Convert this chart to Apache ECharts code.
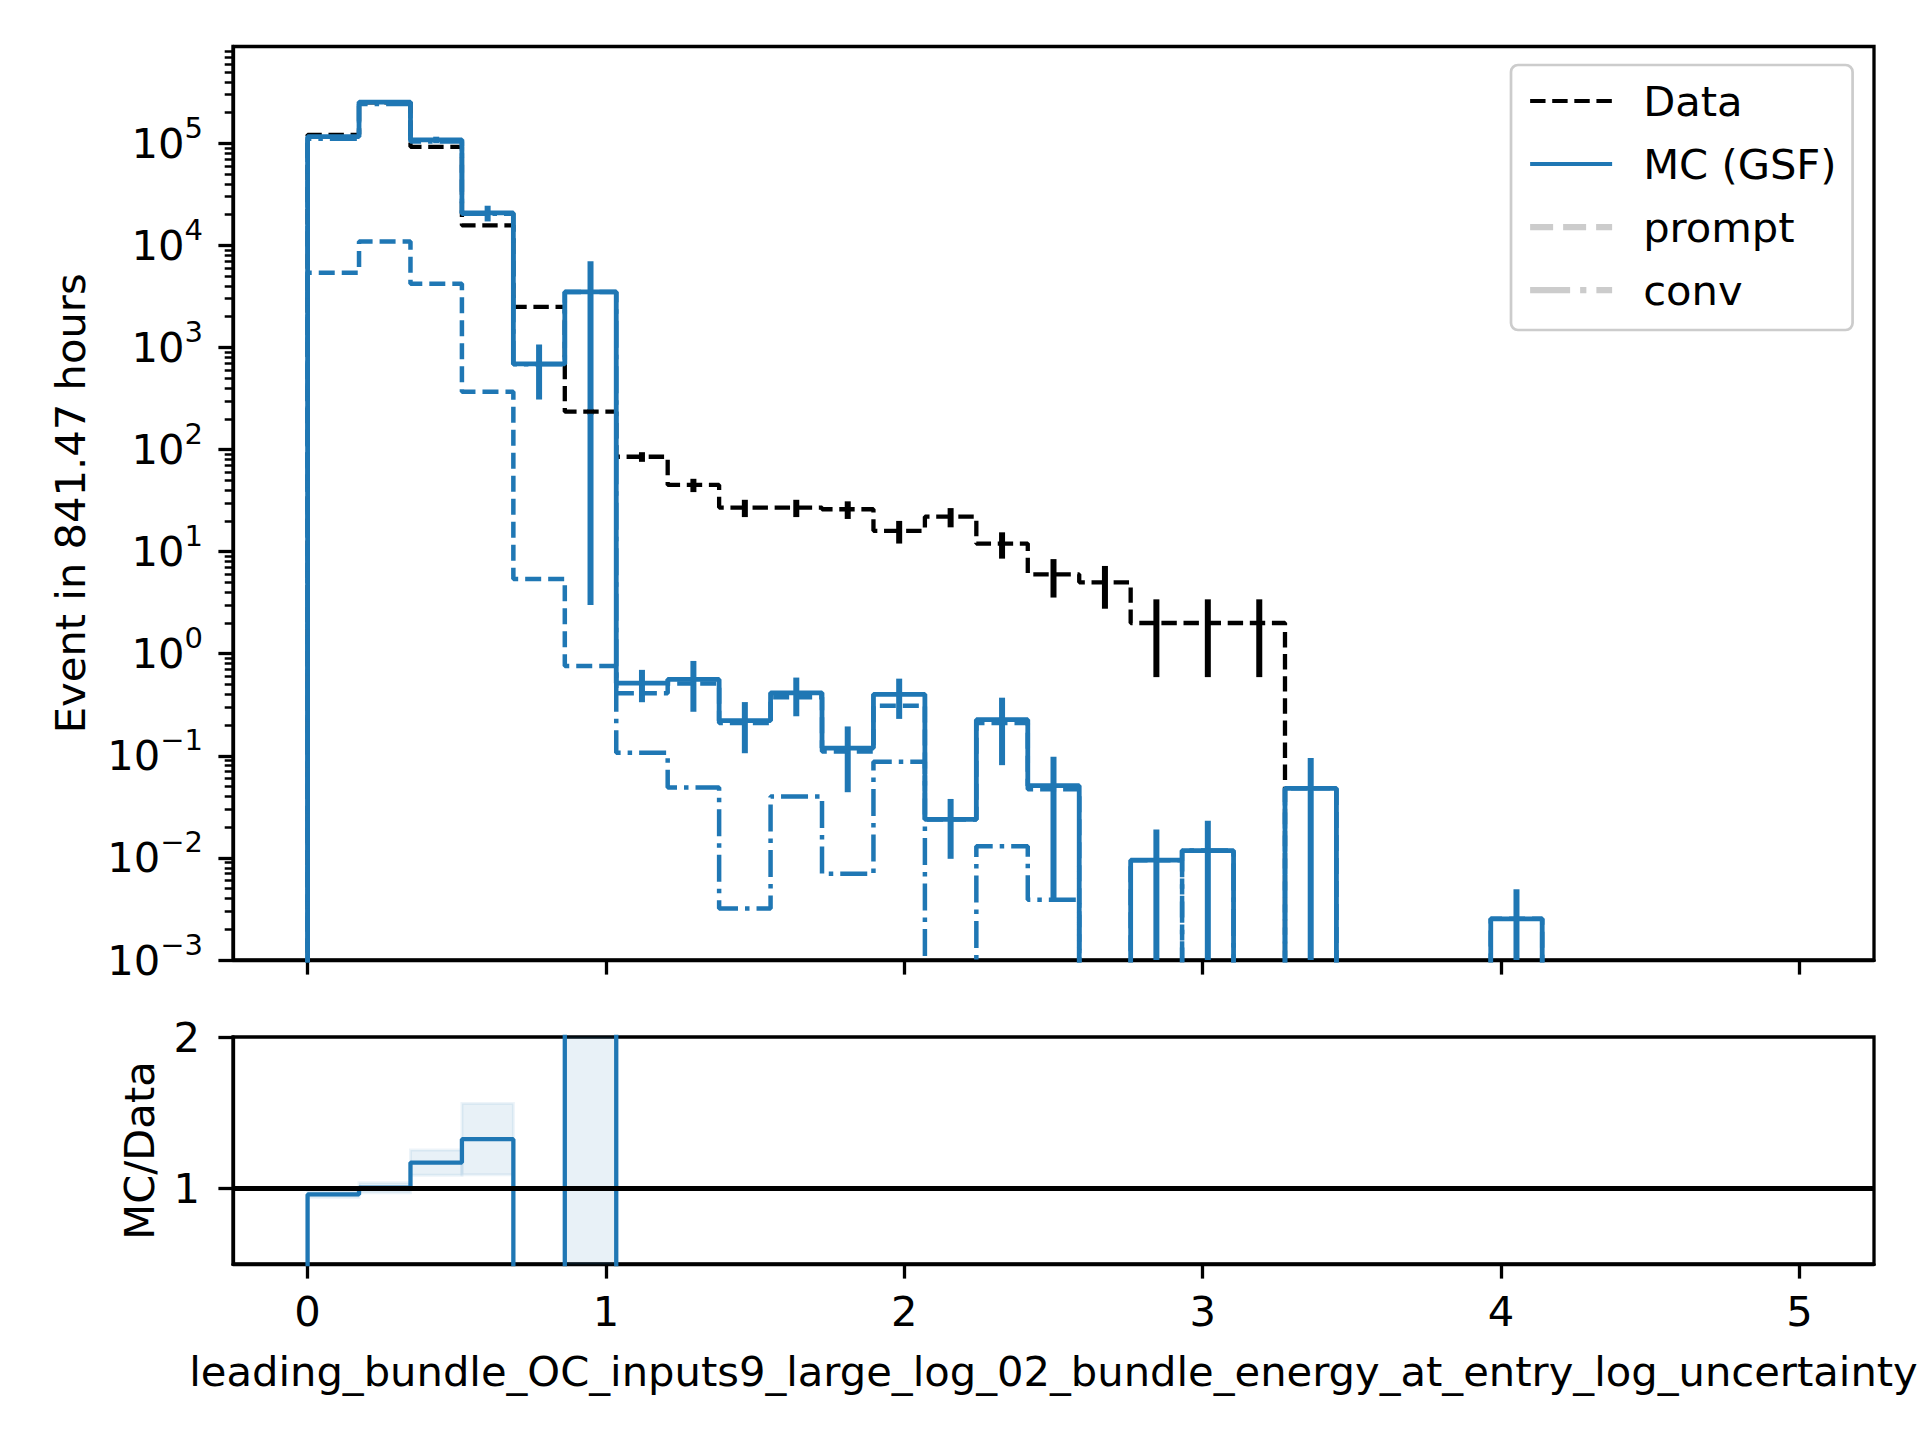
<!DOCTYPE html>
<html><head><meta charset="utf-8">
<script src="https://cdn.jsdelivr.net/npm/echarts@6.0.0/dist/echarts.min.js"></script>
<style>html,body{margin:0;padding:0;background:#fff}#c{width:1920px;height:1440px}</style>
</head><body><div id="c"></div>
<script>
// ---- binning ----
const binLo = 0, binHi = 5, nBins = 29;
// ---- values ----
const dataCounts = [121000, 252000, 92300, 15700, 2500, 235, 85, 45, 27, 27, 26, 16, 22, 12, 6, 5, 2, 2, 2, 0, 0, 0, 0, 0, 0, 0, 0, 0, 0];
const dataErr    = [348, 502, 304, 125, 50, 15.3, 9.2, 6.7, 5.2, 5.2, 5.1, 4.0, 4.7, 3.46, 2.45, 2.24, 1.41, 1.41, 1.41, 0, 0, 0, 0, 0, 0, 0, 0, 0, 0];
const mcVals     = [116000, 253000, 108000, 20800, 689, 3500, 0.515, 0.56, 0.221, 0.414, 0.119, 0.40, 0.0238, 0.226, 0.051, 0, 0.0095, 0.0118, 0, 0.048, 0, 0, 0, 0.00253, 0, 0, 0, 0, 0];
const mcErr      = [2300, 8400, 8000, 3650, 380, 3497, 0.18, 0.29, 0.115, 0.17, 0.075, 0.17, 0.014, 0.145, 0.047, 0, 0.0095, 0.0113, 0, 0.047, 0, 0, 0, 0.0024, 0, 0, 0, 0, 0];
const promptVals = [5400, 10900, 4200, 369, 5.4, 0.76, 0.41, 0.51, 0.21, 0.375, 0.11, 0.31, 0.0238, 0.21, 0.047, 0, 0.0095, 0, 0, 0.048, 0, 0, 0, 0.00253, 0, 0, 0, 0, 0];
const convVals   = [110600, 242100, 103800, 20430, 684, 3499, 0.107, 0.049, 0.0032, 0.040, 0.007, 0.0875, 0, 0.013, 0.0039, 0, 0, 0.0118, 0, 0, 0, 0, 0, 0, 0, 0, 0, 0, 0];
const ratioVals  = [0.96, 1.004, 1.17, 1.325, 0.276, 14.9, 0.0061, 0.0124, 0.0082, 0.0153, 0.0046, 0.025, 0.0011, 0.0188, 0.0085, 0, 0.0048, 0.0059, 0];
const ratioErr   = [0.02, 0.033, 0.083, 0.235, 0.15, 14.9, 0.0021, 0.0065, 0.0043, 0.0063, 0.0029, 0.011, 0.0006, 0.012, 0.0078, 0, 0.0048, 0.0057, 0];
// ---- ticks / labels ----
const xTicks = [0, 1, 2, 3, 4, 5];
const yMajorTicks = [1e-3, 1e-2, 1e-1, 1, 10, 100, 1e3, 1e4, 1e5];
const ratioTicks = [1, 2];
const xLabel = 'leading_bundle_OC_inputs9_large_log_02_bundle_energy_at_entry_log_uncertainty';
const yLabel = 'Event in 841.47 hours';
const ratioLabel = 'MC/Data';
const legendNames = ['Data', 'MC (GSF)', 'prompt', 'conv'];

const FONT = 'DejaVu Sans';
const FS = 41.67;
const BLUE = '#1f77b4';
const yMin = 1e-3, yMax = 8.87e5;
const FLOOR = 1e-9;

const edges = [];
for (let i = 0; i <= nBins; i++) edges.push(binLo + i * (binHi - binLo) / nBins);
const centers = [];
for (let i = 0; i < nBins; i++) centers.push((edges[i] + edges[i + 1]) / 2);

const minorTicks = [];
for (let k = -3; k <= 5; k++) for (let m = 2; m <= 9; m++) { const v = m * Math.pow(10, k); if (v <= yMax) minorTicks.push(v); }

function stairs(vals, floor) {
  const pts = [[edges[0], floor]];
  for (let i = 0; i < vals.length; i++) {
    const v = vals[i] > 0 ? vals[i] : floor;
    pts.push([edges[i], v]); pts.push([edges[i + 1], v]);
  }
  pts.push([edges[vals.length], floor]);
  return pts;
}

function errBars(name, vals, errs, color, width) {
  const rows = [];
  for (let i = 0; i < vals.length; i++) if (vals[i] > 0 && errs[i] > 0) rows.push([centers[i], vals[i], errs[i]]);
  return {
    type: 'custom', name: name, xAxisIndex: 0, yAxisIndex: 0, data: rows, silent: true,
    renderItem: function (params, api) {
      const x = api.value(0), v = api.value(1), e = api.value(2);
      const cs = params.coordSys;
      const top = api.coord([x, v + e]);
      const lo = v - e;
      let yb = lo > 0 ? api.coord([x, lo])[1] : cs.y + cs.height;
      let yt = Math.max(top[1], cs.y);
      yb = Math.min(yb, cs.y + cs.height);
      return { type: 'line', shape: { x1: top[0], y1: yt, x2: top[0], y2: yb }, style: { stroke: color, lineWidth: width } };
    }
  };
}

const bandRows = [];
for (let i = 0; i < ratioVals.length; i++) if (ratioVals[i] > 0) bandRows.push([edges[i], edges[i + 1], ratioVals[i] - ratioErr[i], ratioVals[i] + ratioErr[i]]);

function supLabel(v) {
  const e = Math.round(Math.log10(v));
  const s = (e < 0 ? '\u2212' : '') + Math.abs(e);
  return '{b|10}{s|' + s + '}';
}

const chart = echarts.init(document.getElementById('c'), null, { renderer: 'svg', width: 1920, height: 1440 });
const axisLineStyle = { color: '#000', width: 3.3 };
const noSym = { color: 'rgba(0,0,0,0)', borderColor: 'rgba(0,0,0,0)', borderWidth: 0 };
const LW = 4.8;
const option = {
  animation: false,
  backgroundColor: '#fff',
  textStyle: { fontFamily: FONT },
  grid: [
    { left: 233, top: 46.5, width: 1641, height: 913.5, show: true, borderColor: '#000', borderWidth: 3.3, backgroundColor: 'transparent' },
    { left: 233, top: 1037, width: 1641, height: 227, show: true, borderColor: '#000', borderWidth: 3.3, backgroundColor: 'transparent' }
  ],
  legend: {
    orient: 'vertical', left: 1511, top: 65, padding: [15, 16, 19, 16],
    itemWidth: 82, itemHeight: 20, itemGap: 21, selectedMode: false,
    backgroundColor: '#fff', borderColor: '#cccccc', borderWidth: 2.7, borderRadius: 7,
    textStyle: { fontFamily: FONT, fontSize: FS, color: '#000', padding: [0, 0, 0, 26] },
    data: [
      { name: legendNames[0], itemStyle: noSym, lineStyle: { color: '#000', width: 4.17, type: [15.4, 6.7] } },
      { name: legendNames[1], itemStyle: noSym, lineStyle: { color: BLUE, width: 4.17, type: 'solid' } },
      { name: legendNames[2], itemStyle: noSym, lineStyle: { color: '#cccccc', width: 6.25, type: [23, 10] } },
      { name: legendNames[3], itemStyle: noSym, lineStyle: { color: '#cccccc', width: 6.25, type: [40, 10, 6.25, 10] } }
    ]
  },
  xAxis: [
    { type: 'value', gridIndex: 0, min: -0.25, max: 5.25,
      axisLine: { show: true, onZero: false, lineStyle: axisLineStyle },
      axisTick: { show: true, length: 14.6, lineStyle: { color: '#000', width: 3.3 }, customValues: xTicks },
      axisLabel: { show: false, customValues: xTicks }, splitLine: { show: false } },
    { type: 'value', gridIndex: 1, min: -0.25, max: 5.25,
      axisLine: { show: true, onZero: false, lineStyle: axisLineStyle },
      axisTick: { show: true, length: 14.6, lineStyle: { color: '#000', width: 3.3 }, customValues: xTicks },
      axisLabel: { show: true, customValues: xTicks, fontSize: FS, color: '#000', fontFamily: FONT, margin: 26 },
      splitLine: { show: false },
      name: xLabel, nameLocation: 'middle', nameGap: 86,
      nameTextStyle: { fontSize: FS, color: '#000', fontFamily: FONT } }
  ],
  yAxis: [
    { type: 'log', logBase: 10, gridIndex: 0, min: yMin, max: yMax,
      axisLine: { show: true, onZero: false, lineStyle: axisLineStyle },
      axisTick: { show: true, length: 14.6, lineStyle: { color: '#000', width: 3.3 }, customValues: yMajorTicks },
      axisLabel: { show: true, customValues: yMajorTicks, margin: 30, formatter: supLabel,
        rich: { b: { fontSize: FS, fontFamily: FONT, color: '#000', lineHeight: 60 },
                s: { fontSize: 29, fontFamily: FONT, color: '#000', verticalAlign: 'top', lineHeight: 30 } } },
      splitLine: { show: false },
      name: yLabel, nameLocation: 'middle', nameGap: 142, nameRotate: 90,
      nameTextStyle: { fontSize: FS, color: '#000', fontFamily: FONT } },
    { type: 'log', logBase: 10, gridIndex: 0, min: yMin, max: yMax, position: 'left',
      axisLine: { show: false, onZero: false },
      axisTick: { show: true, length: 8.3, lineStyle: { color: '#000', width: 2.5 }, customValues: minorTicks },
      axisLabel: { show: false, customValues: minorTicks }, splitLine: { show: false } },
    { type: 'value', gridIndex: 1, min: 0.5, max: 2,
      axisLine: { show: true, onZero: false, lineStyle: axisLineStyle },
      axisTick: { show: true, length: 14.6, lineStyle: { color: '#000', width: 3.3 }, customValues: ratioTicks },
      axisLabel: { show: true, customValues: ratioTicks, fontSize: FS, color: '#000', fontFamily: FONT, margin: 33 },
      splitLine: { show: false },
      name: ratioLabel, nameLocation: 'middle', nameGap: 73, nameRotate: 90,
      nameTextStyle: { fontSize: FS, color: '#000', fontFamily: FONT } }
  ],
  series: [
    { type: 'line', name: 'Data', xAxisIndex: 0, yAxisIndex: 0, data: stairs(dataCounts, FLOOR), symbol: 'none', clip: true,
      lineStyle: { color: '#000', width: 4.3, type: [15.4, 6.7] }, itemStyle: { color: '#000' }, silent: true },
    errBars('Data err', dataCounts, dataErr, '#000', 6),
    { type: 'line', name: 'MC (GSF)', xAxisIndex: 0, yAxisIndex: 0, data: stairs(mcVals, FLOOR), symbol: 'none', clip: true,
      lineStyle: { color: BLUE, width: LW }, itemStyle: { color: BLUE }, silent: true },
    errBars('MC err', mcVals, mcErr, BLUE, 6),
    { type: 'line', name: 'prompt', xAxisIndex: 0, yAxisIndex: 0, data: stairs(promptVals, FLOOR), symbol: 'none', clip: true,
      lineStyle: { color: BLUE, width: 4.5, type: [16, 7] }, itemStyle: { color: '#cccccc' }, silent: true },
    { type: 'line', name: 'conv', xAxisIndex: 0, yAxisIndex: 0, data: stairs(convVals, FLOOR), symbol: 'none', clip: true,
      lineStyle: { color: BLUE, width: 4.5, type: [27, 7, 4.5, 7] }, itemStyle: { color: '#cccccc' }, silent: true },
    { type: 'custom', name: 'ratio band', xAxisIndex: 1, yAxisIndex: 2, data: bandRows, silent: true,
      renderItem: function (params, api) {
        const p1 = api.coord([api.value(0), api.value(3)]);
        const p2 = api.coord([api.value(1), api.value(2)]);
        const cs = params.coordSys;
        const r = echarts.graphic.clipRectByRect({ x: p1[0], y: p1[1], width: p2[0] - p1[0], height: p2[1] - p1[1] },
          { x: cs.x, y: cs.y, width: cs.width, height: cs.height });
        if (!r) return null;
        return { type: 'rect', shape: r, style: { fill: 'rgba(31,119,180,0.1)', stroke: 'rgba(31,119,180,0.08)', lineWidth: 3 } };
      } },
    { type: 'line', name: 'ratio', xAxisIndex: 1, yAxisIndex: 2, data: stairs(ratioVals, 0), symbol: 'none', clip: true,
      lineStyle: { color: BLUE, width: 4.3 }, silent: true,
      markLine: { silent: true, symbol: 'none', label: { show: false }, z: 10,
        lineStyle: { color: '#000', width: 5, type: 'solid' }, data: [{ yAxis: 1 }] } }
  ]
};
chart.setOption(option);
</script></body></html>
